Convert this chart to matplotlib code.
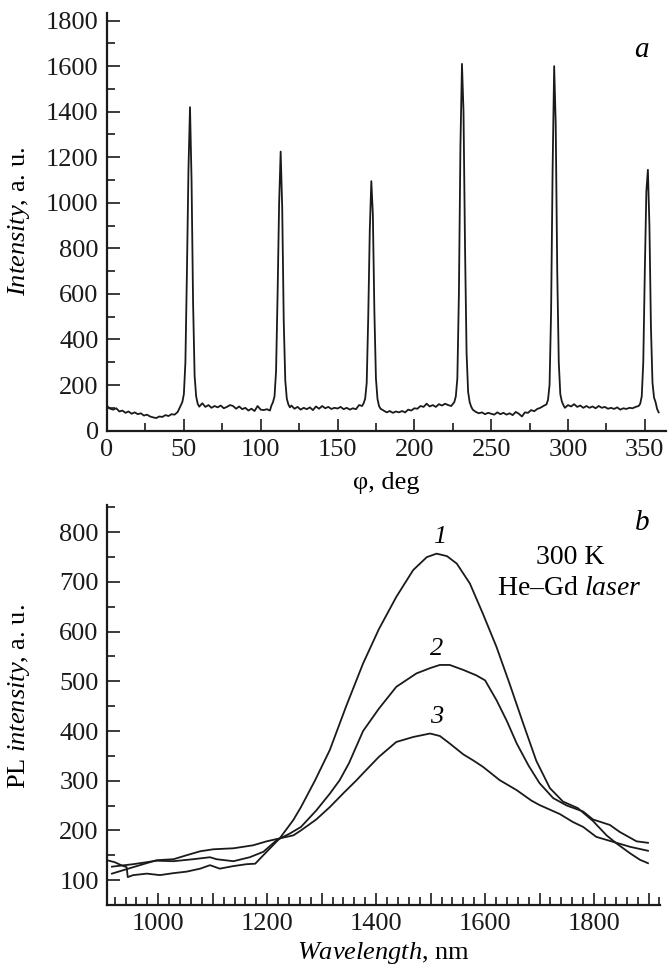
import matplotlib

matplotlib.use("Agg")

import matplotlib.pyplot as plt
from matplotlib.ticker import MultipleLocator, FuncFormatter

plt.rcParams["font.family"] = ["Liberation Serif", "DejaVu Serif"]
plt.rcParams["mathtext.fontset"] = "custom"
plt.rcParams["mathtext.rm"] = "Liberation Serif"
plt.rcParams["mathtext.it"] = "Liberation Serif:italic"

# Panel a: intensity vs rotation angle
phi_a = [
    0, 2, 4, 6, 8, 10, 12, 14, 16, 18, 20, 22, 24, 26, 28, 30, 32, 34, 36, 38, 40, 42, 44, 46,
    48, 49, 50, 51, 52, 53, 54, 55, 56, 57, 58, 59, 60,
    62, 64, 66, 68, 70, 72, 74, 76, 78, 80, 82, 84, 86, 88, 90, 92, 94, 96, 98, 100, 102, 104, 106,
    107, 108, 109, 110, 111, 112, 113, 114, 115, 116, 117, 118, 119,
    120, 122, 124, 126, 128, 130, 132, 134, 136, 138, 140, 142, 144, 146, 148, 150, 152, 154, 156,
    158, 160, 162, 164, 166,
    167, 168, 169, 170, 171, 172, 173, 174, 175, 176, 177, 178,
    180, 182, 184, 186, 188, 190, 192, 194, 196, 198, 200, 202, 204, 206, 208, 210, 212, 214, 216,
    218, 220, 222, 224,
    226, 227, 228, 229, 230, 231, 232, 233, 234, 235, 236, 237,
    238, 240, 242, 244, 246, 248, 250, 252, 254, 256, 258, 260, 262, 264, 266, 268, 270, 272, 274,
    276, 278, 280, 282, 284,
    286, 287, 288, 289, 290, 291, 292, 293, 294, 295, 296, 297,
    298, 300, 302, 304, 306, 308, 310, 312, 314, 316, 318, 320, 322, 324, 326, 328, 330, 332, 334,
    336, 338, 340, 342, 344,
    346, 347, 348, 349, 350, 351, 352, 353, 354, 355, 356, 357, 358, 359,
]
intensity_a = [
    108, 96, 92, 98, 84, 88, 78, 84, 74, 80, 72, 76, 66, 70, 62, 58, 55, 62, 60, 68, 64, 72, 70, 82,
    110, 125, 160, 300, 700, 1150, 1420, 1100, 560, 240, 150, 118, 105,
    120, 104, 112, 100, 108, 102, 110, 98, 104, 112, 108, 96, 106, 94, 100, 88, 96, 86, 108, 92, 90, 94, 88,
    110, 125, 150, 260, 600, 1000, 1225, 980, 480, 220, 140, 115, 102,
    110, 96, 104, 92, 100, 94, 102, 90, 106, 96, 108, 98, 104, 95, 100, 97, 104, 94, 100,
    92, 98, 94, 112, 108,
    120, 140, 210, 500, 880, 1095, 950, 520, 230, 140, 108, 96,
    88, 80, 86, 78, 84, 80, 86, 80, 92, 88, 98, 96, 108, 104, 118, 106, 112, 104, 116,
    110, 118, 112, 108,
    125, 150, 230, 600, 1250, 1610, 1400, 800, 340, 170, 125, 105,
    92, 82, 76, 80, 72, 78, 74, 70, 80, 72, 78, 70, 76, 68, 82, 74, 62, 80, 78,
    90, 85, 95, 100, 108,
    115, 135, 200, 520, 1150, 1600, 1350, 700, 300, 160, 128, 112,
    100, 112, 106, 116, 104, 110, 100, 108, 100, 106, 98, 108, 100, 104, 96, 100, 95, 102, 92,
    98, 95, 100, 98, 104,
    108, 118, 150, 300, 700, 1050, 1145, 900, 450, 210, 145, 125, 95, 80,
]

# Panel b: PL spectra, curves 1-3
wavelength_1 = [906, 920, 932, 942, 944, 954, 979, 1003, 1028, 1052, 1077, 1095, 1113, 1137,
                1162, 1178, 1199, 1223, 1248, 1262, 1288, 1315, 1345, 1376, 1405, 1437, 1468,
                1493, 1511, 1530, 1548, 1572, 1596, 1621, 1645, 1670, 1694, 1719, 1743, 1770,
                1798, 1823, 1841, 1866, 1884, 1899]
pl_1 = [140, 136, 130, 126, 106, 110, 113, 110, 114, 117, 123, 130, 123, 128,
        132, 133, 157, 184, 221, 247, 301, 362, 450, 536, 605, 670, 724,
        750, 757, 752, 737, 697, 636, 569, 495, 415, 340, 285, 258, 245,
        219, 190, 174, 154, 141, 134]

wavelength_2 = [915, 954, 997, 1028, 1064, 1095, 1107, 1138, 1168, 1193, 1217, 1242, 1262,
                1290, 1315, 1333, 1350, 1376, 1405, 1437, 1474, 1500, 1517, 1535, 1560, 1584,
                1600, 1621, 1640, 1658, 1680, 1700, 1725, 1750, 1780, 1798, 1829, 1847, 1878,
                1899]
pl_2 = [127, 132, 139, 138, 142, 146, 142, 138, 146, 157, 180, 194, 207,
        240, 274, 301, 335, 400, 445, 489, 516, 527, 533, 533, 523, 512,
        502, 462, 420, 375, 330, 295, 265, 250, 238, 222, 211, 197, 178,
        175]

wavelength_3 = [915, 954, 997, 1028, 1052, 1077, 1101, 1138, 1174, 1199, 1223, 1248, 1262,
                1290, 1315, 1340, 1364, 1376, 1405, 1437, 1468, 1499, 1517, 1535, 1560, 1578,
                1596, 1627, 1658, 1685, 1700, 1737, 1761, 1780, 1804, 1835, 1866, 1899]
pl_3 = [113, 126, 140, 142, 150, 158, 162, 164, 170, 178, 184, 190, 200,
        222, 247, 275, 301, 315, 348, 378, 388, 395, 390, 375, 353, 341,
        328, 301, 281, 260, 251, 233, 217, 207, 187, 177, 167, 159]

curve_labels = ["1", "2", "3"]
curve_label_pos = [(1517, 790), (1511, 565), (1511, 428)]

LINE = "#1a1a1a"
TICK_SIZE = 19


def style_axis(axis):
    for side in ("top", "right"):
        axis.spines[side].set_visible(False)
    for side in ("left", "bottom"):
        axis.spines[side].set_linewidth(1.6)
        axis.spines[side].set_color(LINE)
    axis.tick_params(which="both", direction="in", width=1.2, colors=LINE,
                     labelsize=TICK_SIZE, top=False, right=False)
    axis.tick_params(which="major", length=9, pad=6)
    axis.tick_params(which="minor", length=6)


figure = plt.figure(figsize=(6.69, 9.72), dpi=100)
figure.patch.set_facecolor("white")

ax_a = figure.add_axes([0.160, 0.557, 0.836, 0.430])
ax_b = figure.add_axes([0.160, 0.069, 0.8265, 0.4115])

# panel a
ax_a.plot(phi_a, intensity_a, color=LINE, linewidth=1.3)
ax_a.set_xlim(0, 364)
ax_a.set_ylim(0, 1835)
ax_a.xaxis.set_major_locator(MultipleLocator(50))
ax_a.xaxis.set_minor_locator(MultipleLocator(25))
ax_a.yaxis.set_major_locator(MultipleLocator(200))
ax_a.yaxis.set_minor_locator(MultipleLocator(100))
style_axis(ax_a)
ax_a.set_xlabel("φ, deg", fontsize=TICK_SIZE)
ax_a.set_ylabel(r"$\mathit{Intensity}$, a. u.", fontsize=TICK_SIZE)
ax_a.yaxis.set_label_coords(-0.134, 0.5)
ax_a.xaxis.set_label_coords(0.5, -0.098)
ax_a.text(348, 1670, "a", fontsize=21, style="italic", ha="center", va="center")

# panel b
for wl, pl in zip([wavelength_1, wavelength_2, wavelength_3], [pl_1, pl_2, pl_3]):
    ax_b.plot(wl, pl, color=LINE, linewidth=1.3)
ax_b.set_xlim(906, 1921)
ax_b.set_ylim(50, 855)
ax_b.xaxis.set_major_locator(MultipleLocator(100))
ax_b.xaxis.set_minor_locator(MultipleLocator(20))
ax_b.xaxis.set_major_formatter(
    FuncFormatter(lambda v, p: f"{v:.0f}" if round(v) % 200 == 0 else "")
)
ax_b.yaxis.set_major_locator(MultipleLocator(100))
ax_b.yaxis.set_minor_locator(MultipleLocator(50))
style_axis(ax_b)
ax_b.set_xlabel(r"$\mathit{Wavelength}$, nm", fontsize=TICK_SIZE)
ax_b.set_ylabel(r"PL $\mathit{intensity}$, a. u.", fontsize=TICK_SIZE)
ax_b.yaxis.set_label_coords(-0.136, 0.52)
ax_b.xaxis.set_label_coords(0.5, -0.088)

ax_b.text(1889, 818, "b", fontsize=21, style="italic", ha="center", va="center")
for label, (lx, ly) in zip(curve_labels, curve_label_pos):
    ax_b.text(lx, ly, label, fontsize=TICK_SIZE, style="italic", ha="center", va="center")
ax_b.text(1757, 750, "300 K", fontsize=20, ha="center", va="center")
ax_b.text(1755, 686, r"He–Gd $\mathit{laser}$", fontsize=20, ha="center", va="center")

figure.savefig("out.png", dpi=100, facecolor="white")
plt.close(figure)
